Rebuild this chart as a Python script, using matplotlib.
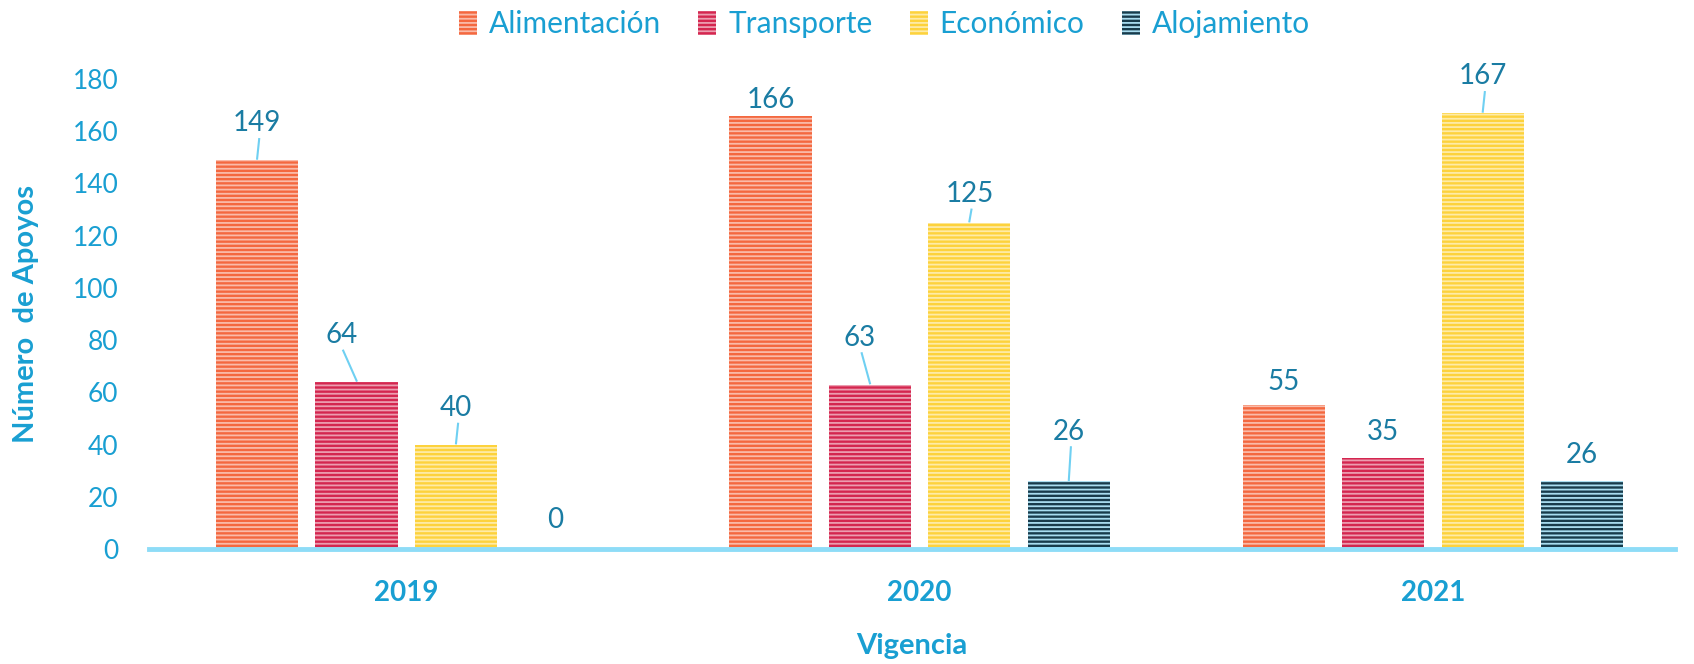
import matplotlib.pyplot as plt
import matplotlib.colors as mcolors
import numpy as np

# data
years = ["2019", "2020", "2021"]
series = ["Alimentación", "Transporte", "Económico", "Alojamiento"]
alimentacion = [149, 166, 55]
transporte = [64, 63, 35]
economico = [40, 125, 167]
alojamiento = [0, 26, 26]

colors = ["#F4683F", "#D4264F", "#FDD23C", "#183B4B"]
# label offsets above the bar (data units); a leader line is drawn when > 10
label_offset = [[14, 6, 9], [18, 18, 10], [14, 11, 14], [11, 19, 10]]
label_dx = [[0, 0, 0], [-0.03, -0.02, 0], [0, 0, 0], [0, 0, 0]]

plt.rcParams['font.family'] = ['Lato', 'DejaVu Sans']
plt.rcParams['hatch.linewidth'] = 1.3

tick_col = "#199FD2"
val_col = "#1A7CA3"
line_col = "#6FD0F2"

fig = plt.figure(figsize=(16.94, 6.64), dpi=100)
ax = fig.add_axes([0.088, 0.173, 0.901, 0.708])

x = np.arange(len(years))
width = 0.16
step = 0.1937
all_vals = [alimentacion, transporte, economico, alojamiento]

for i, (name, vals, c) in enumerate(zip(series, all_vals, colors)):
    pos = x + (i - 1.5) * step
    light = mcolors.to_rgb(c)
    light = tuple(0.45 * v + 0.55 for v in light)
    if i == 3:
        light = "#A9DDF0"
    ax.bar(pos, vals, width, color=c, edgecolor=light, hatch="----",
           linewidth=0, label=name, zorder=2)
    for j, v in enumerate(vals):
        off = label_offset[i][j]
        lx = pos[j] + label_dx[i][j]
        ax.text(lx, v + off, str(v), ha="center", va="center",
                fontsize=20, color=val_col)
        if off > 10 and v > 0:
            ax.plot([pos[j], lx + 0.004], [v + 0.5, v + off - 6],
                    color=line_col, lw=1.5, zorder=3)

ax.set_ylim(0, 180)
ax.set_xlim(-0.501, 2.472)
ax.set_yticks(np.arange(0, 181, 20))
ax.set_xticks(x)
ax.set_xticklabels(years, fontsize=20, fontweight="bold", color=tick_col)
ax.tick_params(axis="y", labelsize=19, labelcolor=tick_col, length=0, pad=22)
ax.tick_params(axis="x", length=0, pad=22)

for s in ["top", "right", "left"]:
    ax.spines[s].set_visible(False)
ax.spines["bottom"].set_color("#8EDCF7")
ax.spines["bottom"].set_linewidth(3.5)
ax.spines["bottom"].set_zorder(4)

ax.set_ylabel("Número  de Apoyos", fontsize=21, fontweight="bold",
              color=tick_col, labelpad=24)
ax.set_xlabel("Vigencia", fontsize=21, fontweight="bold", color=tick_col,
              labelpad=20)

leg = fig.legend(loc="upper center", bbox_to_anchor=(0.522, 1.025), ncol=4,
                 frameon=False, fontsize=21.5, handlelength=0.6, handleheight=0.9,
                 columnspacing=1.25, handletextpad=0.4)
for t in leg.get_texts():
    t.set_color(tick_col)

fig.savefig("out.png", dpi=100)
